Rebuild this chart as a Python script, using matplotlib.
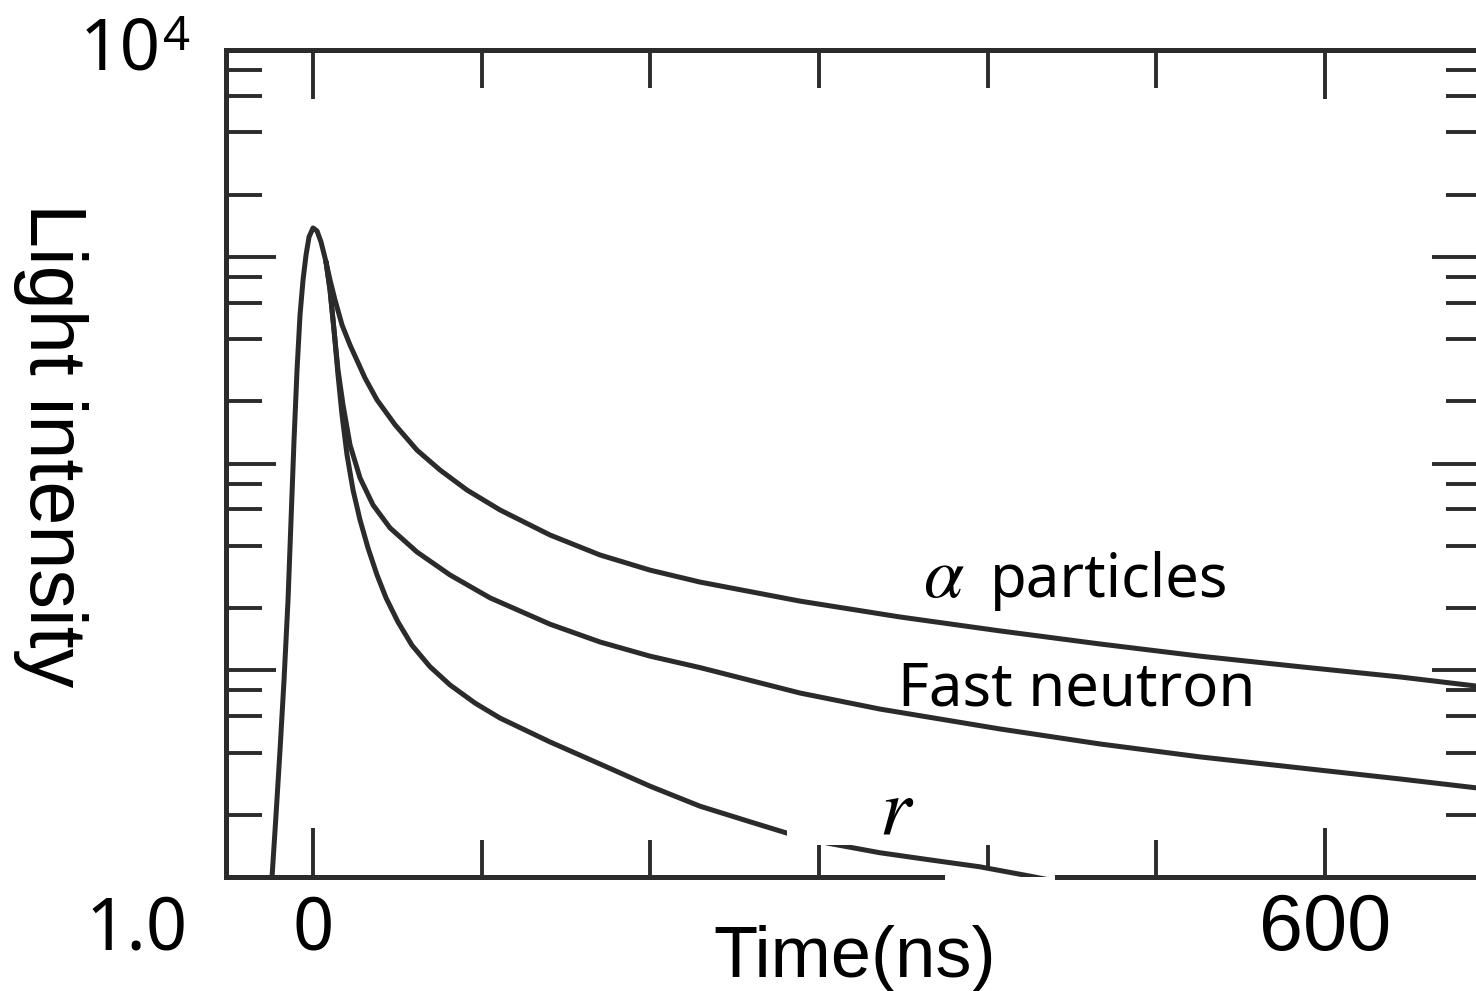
import numpy as np
import matplotlib
matplotlib.use("Agg")
import matplotlib.pyplot as plt
from matplotlib.patches import Rectangle
from matplotlib.transforms import blended_transform_factory

# ---- data (time in ns, light intensity) ----
rise_t = [-24.31, -21.94, -19.57, -17.19, -14.82, -13.04, -11.26, -9.49, -7.71, -5.93,
          -4.15, -2.37, 0.0, 2.37, 4.74, 7.71]
rise_i = [1.00, 1.995, 4.11, 8.97, 21.9, 53.3, 130, 283, 523, 772,
          1020, 1246, 1378, 1333, 1179, 943]

alpha_t = [10.08, 13.04, 17.19, 21.94, 30.83, 37.94, 48.62, 61.66, 75.30, 91.30, 110.87,
           140.51, 170.16, 199.80, 229.45, 288.73, 348.02, 407.31, 466.60, 525.89, 585.17,
           644.46, 689.52, 700]
alpha_i = [772, 618, 468, 374, 259, 203, 154, 116, 93.0, 74.4, 59.6,
           45.1, 36.1, 30.5, 26.7, 21.6, 18.1, 15.5, 13.4, 11.7, 10.4,
           9.28, 8.39, 8.25]

neutron_t = [10.08, 12.45, 14.82, 17.79, 21.94, 27.87, 35.57, 45.65, 61.66, 81.22, 104.94,
             140.51, 170.16, 199.80, 229.45, 288.73, 336.16, 407.31, 466.60, 525.89, 585.17,
             644.46, 689.52, 700]
neutron_i = [691, 442, 283, 192, 123, 85.1, 63.0, 48.8, 37.3, 28.9, 22.4,
             16.7, 13.7, 11.7, 10.3, 7.76, 6.49, 5.20, 4.40, 3.81, 3.37,
             2.98, 2.70, 2.66]

gamma_t = [10.08, 12.45, 14.82, 17.19, 20.16, 23.72, 27.87, 32.61, 37.94, 43.28, 50.39,
           58.69, 69.37, 81.22, 96.05, 110.87, 140.51, 170.16, 199.80, 229.45, 259.09,
           281.03, 304.74, 336.16, 365.81, 395.45, 425.09, 442.87]
gamma_i = [691, 442, 268, 172, 110, 74.4, 53.3, 39.0, 28.9, 22.4, 17.1,
           13.2, 10.4, 8.49, 6.94, 5.87, 4.50, 3.52, 2.75, 2.20, 1.85,
           1.63, 1.46, 1.31, 1.21, 1.12, 1.01, 0.946]

x_major = [0, 600]
x_minor = [100, 200, 300, 400, 500]
y_major = [10, 100, 1000]
y_minor = [m * 10 ** d for d in range(4) for m in (2, 4, 6, 8)]

INK = "#2b2b2b"
W, H = 1476, 991
fig = plt.figure(figsize=(W / 100, H / 100), dpi=100)
ax = fig.add_axes([226 / W, 114 / H, (1482 - 226) / W, (877 - 50) / H])
ax.set_yscale("log")
ax.set_xlim(-51.6, 693.1)
ax.set_ylim(1, 1e4)

ax.plot(rise_t, rise_i, color=INK, lw=3.6, solid_capstyle="round",
        solid_joinstyle="round", zorder=3)
for t, i in ((alpha_t, alpha_i), (neutron_t, neutron_i), (gamma_t, gamma_i)):
    ax.plot([rise_t[-1]] + t, [rise_i[-1]] + i, color=INK, lw=3.6,
            solid_capstyle="round", solid_joinstyle="round", zorder=3)

for s in ax.spines.values():
    s.set_linewidth(3.6)
    s.set_color(INK)

ax.set_xticks(x_major)
ax.set_xticks(x_minor, minor=True)
ax.set_yticks(y_major)
ax.set_yticks(y_minor, minor=True)
ax.tick_params(which="both", direction="in", top=True, right=True,
               labelbottom=False, labelleft=False, color=INK, width=2.8)
ax.tick_params(axis="x", which="major", length=35)
ax.tick_params(axis="x", which="minor", length=27)
ax.tick_params(axis="y", which="major", length=36)
ax.tick_params(axis="y", which="minor", length=26)

# white patches present in the reference
ax.add_patch(Rectangle((787, H - 845), 230, 55, transform=None, facecolor="white",
                       edgecolor="none", zorder=4, clip_on=False))
ax.add_patch(Rectangle((945, H - 882), 110, 14, transform=None, facecolor="white",
                       edgecolor="none", zorder=2.7, clip_on=False))

jp = "Noto Sans"
ari = "Liberation Sans"

def px(x, y):
    return x / W, 1 - y / H

fig.text(*px(80, 69), "10", family=jp, fontsize=51, ha="left", va="baseline")
fig.text(*px(163, 50), "4", family=jp, fontsize=34, ha="left", va="baseline")
fig.text(*px(188, 949), "1.0", family=jp, fontsize=52, ha="right", va="baseline")

btr = blended_transform_factory(ax.transData, fig.transFigure)
ax.text(0, 1 - 949 / H, "0", transform=btr, family=jp, fontsize=52,
        ha="center", va="baseline")
ax.text(600, 1 - 950 / H, "600", transform=btr, family=ari, fontsize=57,
        ha="center", va="baseline")

fig.text(*px(855, 977), "Time(ns)", family=ari, fontsize=52, ha="center", va="baseline")
fig.text(*px(50, 445), "Light intensity", family=ari, fontsize=57, ha="center", va="center",
         rotation=-90)

fig.text(*px(944, 597), r"$\alpha$", fontsize=52, ha="center", va="baseline",
         math_fontfamily="stix")
fig.text(*px(990, 597), "particles", family=jp, fontsize=43,
         ha="left", va="baseline")
fig.text(*px(1077, 705), "Fast neutron", family=jp, fontsize=43,
         ha="center", va="baseline")
fig.text(*px(897, 833), r"$r$", fontsize=58, ha="center", va="baseline",
         math_fontfamily="stix", zorder=5)

fig.savefig("out.png", dpi=100, facecolor="white")
